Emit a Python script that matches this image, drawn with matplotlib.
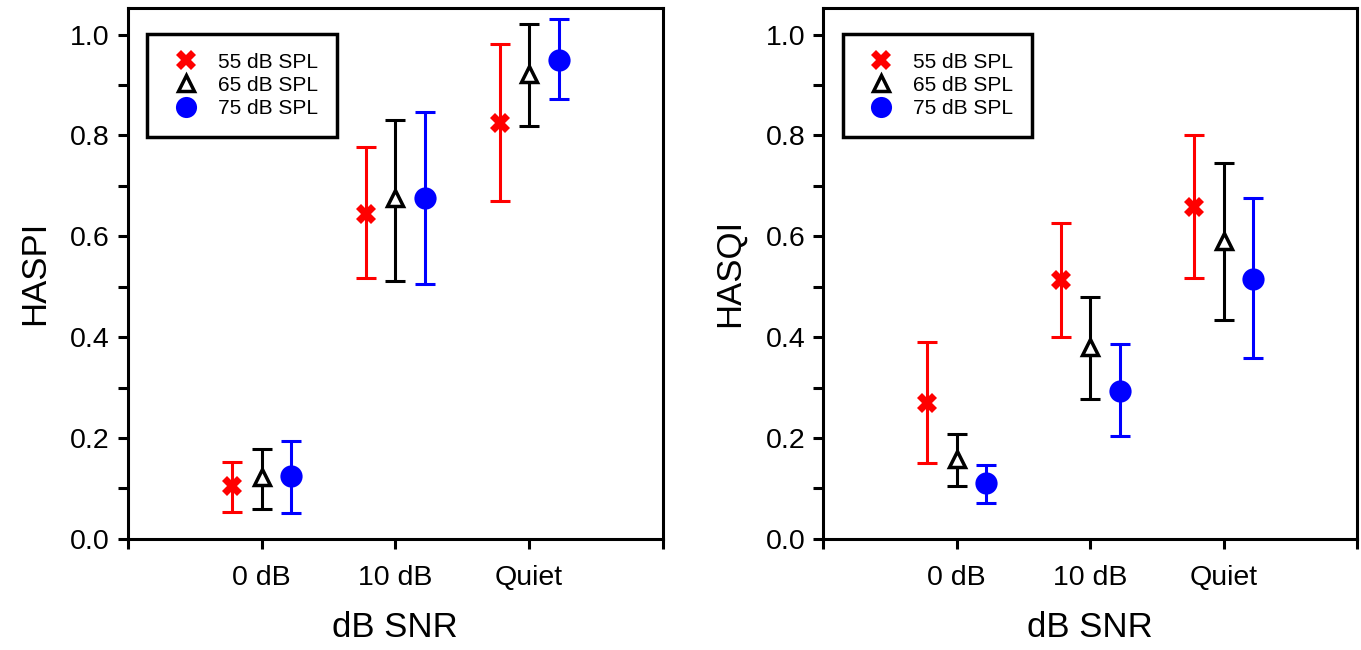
import numpy as np
import matplotlib
matplotlib.use("Agg")
import matplotlib.pyplot as plt
from matplotlib.ticker import MultipleLocator

plt.rcParams['font.family'] = ['Liberation Sans', 'DejaVu Sans']

# categorias do eixo x
condicoes = ['0 dB', '10 dB', 'Quiet']
niveis = ['55 dB SPL', '65 dB SPL', '75 dB SPL']

# HASPI: media, limite inferior e superior das barras de erro
haspi_55 = [0.105, 0.645, 0.825]
haspi_55_inf = [0.054, 0.517, 0.670]
haspi_55_sup = [0.153, 0.777, 0.981]
haspi_65 = [0.122, 0.675, 0.922]
haspi_65_inf = [0.060, 0.511, 0.818]
haspi_65_sup = [0.178, 0.830, 1.021]
haspi_75 = [0.124, 0.675, 0.950]
haspi_75_inf = [0.051, 0.506, 0.872]
haspi_75_sup = [0.194, 0.847, 1.030]

# HASQI
hasqi_55 = [0.269, 0.513, 0.659]
hasqi_55_inf = [0.150, 0.400, 0.518]
hasqi_55_sup = [0.390, 0.627, 0.801]
hasqi_65 = [0.159, 0.381, 0.591]
hasqi_65_inf = [0.104, 0.278, 0.434]
hasqi_65_sup = [0.208, 0.480, 0.746]
hasqi_75 = [0.110, 0.293, 0.516]
hasqi_75_inf = [0.072, 0.203, 0.358]
hasqi_75_sup = [0.147, 0.386, 0.676]

estilos = [
    dict(color='red', marker='X', ms=15, mfc='red', mec='red', mew=0),
    dict(color='black', marker='^', ms=12, mfc='white', mec='black', mew=2.5),
    dict(color='blue', marker='o', ms=16, mfc='blue', mec='blue', mew=0),
]
deslocamentos = [-0.22, 0.0, 0.22]

fig = plt.figure(figsize=(13.61, 6.5), dpi=100)
ax1 = fig.add_axes([0.094, 0.171, 0.393, 0.817])
ax2 = fig.add_axes([0.605, 0.171, 0.392, 0.817])


def painel(ax, series, ylabel):
    x = np.arange(1, len(condicoes) + 1)
    for (media, inf, sup), est, d, nome in zip(series, estilos, deslocamentos, niveis):
        media = np.array(media)
        erro = [media - np.array(inf), np.array(sup) - media]
        ax.errorbar(x + d, media, yerr=erro, fmt='none', ecolor=est['color'],
                    elinewidth=2.2, capsize=7, capthick=2.2, zorder=2)
        ax.plot(x + d, media, linestyle='none', marker=est['marker'], ms=est['ms'],
                mfc=est['mfc'], mec=est['mec'], mew=est['mew'], label=nome, zorder=3)
    ax.set_xlim(0, 4)
    ax.set_ylim(0, 1.053)
    ax.set_xticks([0, 1, 2, 3, 4])
    ax.set_xticklabels([''] + condicoes + [''])
    ax.yaxis.set_major_locator(MultipleLocator(0.2))
    ax.yaxis.set_minor_locator(MultipleLocator(0.1))
    ax.yaxis.set_major_formatter(matplotlib.ticker.FormatStrFormatter('%.1f'))
    for s in ax.spines.values():
        s.set_linewidth(2.2)
    ax.tick_params(axis='both', which='both', direction='out', length=7, width=2.2,
                   labelsize=20.5)
    ax.tick_params(axis='x', pad=12)
    ax.tick_params(axis='y', pad=6)
    ax.set_xlabel('dB SNR', fontsize=25, labelpad=14)
    ax.set_ylabel(ylabel, fontsize=25, labelpad=14)
    leg = ax.legend(loc='upper left', bbox_to_anchor=(0.036, 0.951), borderaxespad=0,
                    fontsize=15, frameon=True, fancybox=False, edgecolor='black',
                    framealpha=1, handlelength=1.9, handletextpad=0.6,
                    labelspacing=0.2, borderpad=0.9, markerscale=0.95)
    leg.get_frame().set_linewidth(2.5)


painel(ax1, [(haspi_55, haspi_55_inf, haspi_55_sup),
             (haspi_65, haspi_65_inf, haspi_65_sup),
             (haspi_75, haspi_75_inf, haspi_75_sup)], 'HASPI')
painel(ax2, [(hasqi_55, hasqi_55_inf, hasqi_55_sup),
             (hasqi_65, hasqi_65_inf, hasqi_65_sup),
             (hasqi_75, hasqi_75_inf, hasqi_75_sup)], 'HASQI')

fig.savefig('out.png', dpi=100)
